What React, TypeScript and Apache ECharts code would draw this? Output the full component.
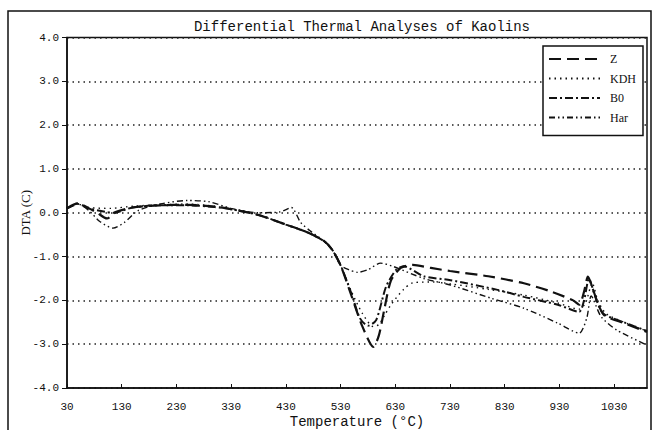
import React, { useEffect, useRef } from "react";
import * as echarts from "echarts";

const titleText = "Differential Thermal Analyses of Kaolins";
const seriesNames = ["Z", "KDH", "B0", "Har"];
const xTicks = [30, 130, 230, 330, 430, 530, 630, 730, 830, 930, 1030];

const zTemps = [30, 50, 70, 85, 103, 120, 150, 200, 250, 300, 330, 380, 430, 470, 500, 515, 530, 550, 570, 590, 600, 610, 622, 640, 662, 695, 730, 800, 865, 915, 955, 966, 975, 982, 990, 1000, 1012, 1048, 1090];
const zValues = [0.1, 0.22, 0.1, 0.0, -0.13, 0.02, 0.12, 0.17, 0.18, 0.14, 0.08, -0.05, -0.27, -0.45, -0.65, -0.85, -1.2, -1.9, -2.6, -3.06, -2.8, -2.2, -1.55, -1.26, -1.19, -1.26, -1.33, -1.45, -1.61, -1.8, -2.0, -2.1, -1.8, -1.46, -1.7, -2.06, -2.34, -2.52, -2.72];

const kdhTemps = [30, 50, 70, 110, 150, 200, 250, 300, 330, 380, 430, 470, 500, 515, 530, 550, 570, 590, 600, 610, 622, 645, 662, 700, 730, 800, 865, 927, 966, 978, 990, 1000, 1015, 1048, 1090];
const kdhValues = [0.1, 0.2, 0.12, 0.1, 0.15, 0.18, 0.2, 0.15, 0.08, -0.05, -0.27, -0.45, -0.65, -0.85, -1.2, -1.8, -2.3, -2.6, -2.55, -2.35, -2.1, -1.75, -1.6, -1.58, -1.62, -1.75, -1.88, -2.06, -2.2, -2.05, -1.6, -2.0, -2.3, -2.5, -2.7];

const b0Temps = [30, 50, 70, 100, 115, 150, 200, 250, 300, 330, 380, 430, 470, 500, 515, 530, 550, 565, 580, 595, 613, 631, 645, 682, 731, 817, 865, 927, 966, 975, 984, 995, 1010, 1048, 1090];
const b0Values = [0.1, 0.2, 0.1, 0.02, 0.0, 0.12, 0.17, 0.17, 0.13, 0.08, -0.05, -0.27, -0.45, -0.65, -0.85, -1.2, -1.85, -2.4, -2.58, -2.45, -1.69, -1.31, -1.22, -1.45, -1.54, -1.76, -1.92, -2.1, -2.26, -2.0, -1.5, -1.9, -2.3, -2.5, -2.7];

const harTemps = [30, 50, 70, 90, 114, 135, 160, 200, 250, 290, 330, 380, 420, 440, 457, 475, 500, 515, 530, 545, 561, 580, 603, 627, 682, 731, 805, 865, 927, 966, 980, 988, 1006, 1035, 1090];
const harValues = [0.1, 0.2, 0.05, -0.2, -0.35, -0.22, 0.05, 0.2, 0.28, 0.25, 0.1, 0.0, 0.02, 0.12, -0.22, -0.42, -0.65, -0.85, -1.2, -1.3, -1.36, -1.3, -1.15, -1.23, -1.5, -1.65, -1.95, -2.18, -2.52, -2.75, -2.4, -1.9, -2.37, -2.68, -3.02];

const pairs = (t: number[], v: number[]) => t.map((x, i) => [x, v[i]]);

export default function App() {
  const ref = useRef<HTMLDivElement>(null);
  useEffect(() => {
    if (!ref.current) return;
    const chart = echarts.init(ref.current, null, { renderer: "svg" });
    const mono = "Liberation Mono";
    const serif = "Liberation Serif";
    const mk = (name: string, t: number[], v: number[], type: any, width: number) => ({
      name,
      type: "line",
      data: pairs(t, v),
      symbol: "none",
      smooth: 0.25,
      lineStyle: { color: "#111", width, type },
      itemStyle: { color: "#111" },
    });
    chart.setOption({
      animation: false,
      backgroundColor: "#fff",
      title: {
        text: titleText,
        left: 357,
        top: 15,
        textAlign: "center",
        textStyle: { fontFamily: mono, fontSize: 14, fontWeight: "normal", color: "#111" },
      },
      legend: {
        orient: "vertical",
        left: 543,
        top: 46,
        padding: [7, 7, 12, 5],
        itemWidth: 51,
        itemHeight: 14,
        itemGap: 7.5,
        borderColor: "#111",
        borderWidth: 1.5,
        backgroundColor: "#fff",
        itemStyle: { opacity: 0 },
        textStyle: { fontFamily: serif, fontSize: 12, color: "#111", padding: [0, 0, 0, 5] },
        data: seriesNames,
      },
      grid: {
        left: 67,
        right: 9,
        top: 37.5,
        bottom: 42,
        show: true,
        borderColor: "#111",
        borderWidth: 1.5,
        outerBoundsMode: "none",
        containLabel: false,
      },
      xAxis: {
        type: "value",
        min: 30,
        max: 1090,
        name: "Temperature (°C)",
        nameLocation: "middle",
        nameGap: 27,
        nameMoveOverlap: false,
        nameTextStyle: { fontFamily: mono, fontSize: 14, color: "#111" },
        axisLine: { onZero: false, lineStyle: { color: "#111", width: 1.5 } },
        axisTick: { inside: true, length: 4, customValues: xTicks, lineStyle: { color: "#111" } },
        axisLabel: {
          customValues: xTicks,
          fontFamily: mono,
          fontSize: 11,
          color: "#111",
          margin: 13,
          formatter: (v: number) => String(v),
        },
        splitLine: { show: false },
      },
      yAxis: {
        type: "value",
        min: -4,
        max: 4,
        interval: 1,
        name: "DTA (C)",
        nameLocation: "middle",
        nameGap: 35,
        nameMoveOverlap: false,
        nameTextStyle: { fontFamily: serif, fontSize: 13, color: "#111" },
        axisLine: { show: true, onZero: false, lineStyle: { color: "#111", width: 1.5 } },
        axisTick: { show: true, length: 5, lineStyle: { color: "#111" } },
        axisLabel: {
          fontFamily: mono,
          fontSize: 11,
          color: "#111",
          margin: 8,
          formatter: (v: number) => v.toFixed(1),
        },
        splitLine: { show: true, lineStyle: { color: "#222", width: 1.5, type: [1.5, 4] } },
      },
      graphic: [
        {
          type: "rect",
          shape: { x: 8, y: 11, width: 643, height: 430 },
          style: { fill: "none", stroke: "#111", lineWidth: 1.5 },
          silent: true,
        },
      ],
      series: [
        mk("Z", zTemps, zValues, [12, 6], 2.2),
        mk("KDH", kdhTemps, kdhValues, [1.5, 4], 1.4),
        mk("B0", b0Temps, b0Values, [8, 3, 2, 3], 2),
        mk("Har", harTemps, harValues, [6, 3, 1.5, 3, 1.5, 3], 1.4),
      ],
    });
    return () => chart.dispose();
  }, []);
  return <div ref={ref} style={{ position: "fixed", left: 0, top: 0, width: 656, height: 430, background: "#fff" }} />;
}
